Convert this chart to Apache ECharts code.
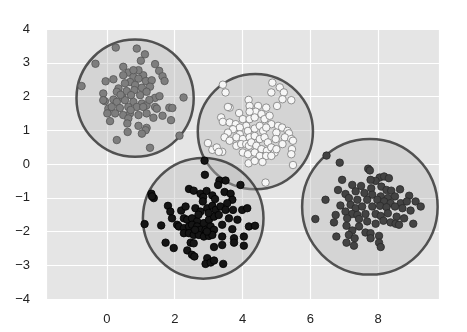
<!DOCTYPE html>
<html><head><meta charset="utf-8">
<script src="https://cdn.jsdelivr.net/npm/echarts@6/dist/echarts.min.js"></script>
<style>html,body{margin:0;padding:0;background:#fff}#c{width:467px;height:332px}</style>
</head><body><div id="c"></div>
<script>
// x/y tick labels
const xTicks = [0, 2, 4, 6, 8];
const yTicks = [-4, -3, -2, -1, 0, 1, 2, 3, 4];

// cluster circles: centers and radii
const circleCenters = [[0.83, 1.95], [4.38, 0.96], [2.84, -1.61], [7.76, -1.27]];
const circleRadii = [1.73, 1.70, 1.78, 2.0];

// cluster A (medium grey, top-left)
const clusterA = [
[0.26,3.45],[0.88,3.42],[1.12,3.25],[1.00,3.06],[-0.34,2.97],[0.48,2.88],[1.42,2.96],[1.54,2.76],
[0.63,2.71],[1.07,2.63],[1.64,2.60],[1.70,2.46],[-0.04,2.45],[0.19,2.51],[0.78,2.58],[0.93,2.53],
[0.68,2.43],[0.53,2.39],[0.83,2.34],[1.15,2.46],[1.32,2.48],[1.27,2.29],[1.03,2.26],[0.81,2.19],
[0.58,2.16],[0.34,2.24],[0.29,2.14],[-0.75,2.31],[-0.11,2.09],[-0.06,1.86],[0.19,1.91],[0.46,1.96],
[0.71,2.04],[0.98,2.04],[1.17,2.14],[1.42,1.96],[1.55,2.01],[2.26,1.97],[-0.11,1.89],[0.29,1.84],
[0.53,1.89],[0.78,1.84],[1.03,1.79],[1.17,1.74],[1.42,1.69],[0.04,1.64],[0.14,1.69],[0.38,1.66],
[0.63,1.69],[0.88,1.69],[1.07,1.69],[1.47,1.64],[1.84,1.67],[1.93,1.66],[0.01,1.50],[0.24,1.50],
[0.48,1.45],[0.68,1.50],[0.93,1.45],[1.17,1.50],[1.64,1.43],[1.37,1.37],[0.09,1.27],[0.63,1.35],
[0.60,1.20],[0.93,1.13],[1.17,1.07],[1.14,1.00],[1.03,0.90],[0.61,0.95],[1.89,1.30],[0.29,0.71],
[1.27,0.48],[2.14,0.84],[0.48,2.63],[0.93,2.78],[0.78,2.78],[0.40,2.05],[1.25,1.90],[0.70,1.60]
];

// cluster B (white, centre)
const clusterB = [
[3.42,2.35],[3.50,2.12],[4.88,2.41],[5.10,2.27],[5.22,2.12],[4.85,2.12],[5.02,1.72],[5.18,1.92],
[5.44,1.89],[4.18,1.90],[3.62,1.67],[3.57,1.69],[4.21,1.72],[4.46,1.72],[4.70,1.67],[4.39,1.55],
[4.21,1.55],[3.90,1.51],[3.37,1.38],[3.42,1.25],[3.62,1.23],[3.80,1.18],[4.01,1.33],[4.21,1.33],
[4.36,1.38],[4.56,1.48],[4.65,1.33],[4.80,1.43],[4.85,1.18],[5.05,1.13],[5.17,1.08],[5.33,0.98],
[5.37,0.91],[4.11,1.13],[3.92,1.08],[3.72,1.03],[3.57,0.93],[3.92,0.88],[4.16,0.98],[4.36,1.05],
[4.51,1.13],[4.61,0.98],[4.70,1.08],[5.00,0.93],[5.25,0.79],[5.44,0.74],[5.49,0.69],[3.47,0.79],
[3.62,0.69],[3.82,0.79],[4.01,0.74],[4.21,0.79],[4.36,0.83],[4.51,0.74],[4.65,0.79],[4.75,0.64],
[4.98,0.74],[5.18,0.59],[5.46,0.44],[2.98,0.62],[3.11,0.42],[3.24,0.49],[3.40,0.36],[3.30,0.36],
[3.82,0.54],[3.96,0.59],[4.11,0.59],[4.19,0.54],[4.26,0.64],[4.41,0.54],[4.56,0.44],[4.72,0.39],
[4.85,0.49],[4.95,0.34],[5.00,0.44],[4.01,0.34],[4.16,0.29],[4.36,0.34],[4.51,0.24],[4.70,0.24],
[4.85,0.24],[5.44,0.29],[4.59,0.06],[4.18,0.02],[4.36,0.09],[5.49,-0.03],[4.68,-0.55]
];

// cluster C (black, bottom centre)
const clusterC = [
[2.88,0.10],[2.89,-0.32],[3.32,-0.49],[3.50,-0.49],[3.94,-0.62],[3.28,-0.62],[2.42,-0.74],[2.56,-0.79],
[2.76,-0.88],[2.94,-0.80],[3.11,-0.93],[2.84,-0.98],[3.19,-1.04],[2.83,-1.11],[3.47,-0.83],[3.65,-0.88],
[3.70,-1.06],[1.31,-0.88],[1.38,-1.01],[1.33,-0.96],[1.80,-1.24],[1.87,-1.41],[2.19,-1.38],[2.32,-1.26],
[2.61,-1.31],[2.76,-1.41],[2.96,-1.31],[3.11,-1.24],[3.21,-1.36],[3.35,-1.26],[3.55,-1.16],[3.50,-1.36],
[3.72,-1.36],[3.99,-1.36],[4.14,-1.31],[1.92,-1.61],[2.07,-1.80],[2.27,-1.61],[2.37,-1.65],[2.51,-1.61],
[2.66,-1.70],[2.86,-1.75],[3.01,-1.65],[3.16,-1.56],[3.30,-1.51],[3.60,-1.61],[3.85,-1.65],[1.11,-1.78],
[1.60,-1.82],[2.12,-1.85],[2.27,-1.90],[2.42,-1.85],[2.51,-1.80],[2.66,-1.85],[2.76,-1.95],[2.91,-1.95],
[3.06,-1.85],[3.16,-1.95],[3.40,-1.80],[3.70,-1.93],[4.19,-1.85],[4.37,-1.83],[2.27,-2.05],[2.42,-2.05],
[2.56,-2.10],[2.71,-2.10],[2.86,-2.15],[3.01,-2.13],[3.11,-2.10],[3.40,-2.15],[3.75,-2.20],[4.04,-2.15],
[1.73,-2.33],[1.97,-2.49],[2.47,-2.33],[2.56,-2.35],[3.40,-2.40],[3.16,-2.46],[3.75,-2.33],[4.04,-2.42],
[2.37,-2.56],[2.51,-2.69],[2.58,-2.74],[2.96,-2.79],[2.91,-2.96],[3.06,-2.92],[3.16,-2.86],[3.43,-2.96],
[2.70,-1.50],[3.00,-1.45],[2.95,-2.00],[2.60,-1.95]
];

// cluster D (dark grey, right)
const clusterD = [
[6.48,0.25],[6.87,0.04],[7.71,-0.14],[7.76,-0.19],[8.05,-0.40],[8.18,-0.37],[8.32,-0.42],[7.93,-0.50],
[7.78,-0.47],[6.94,-0.47],[7.24,-0.62],[7.50,-0.65],[7.80,-0.72],[8.10,-0.67],[8.25,-0.77],[8.39,-0.79],
[8.65,-0.75],[6.82,-0.77],[7.04,-0.89],[7.34,-0.81],[7.60,-0.86],[7.83,-0.91],[8.08,-0.96],[8.29,-1.01],
[8.50,-0.96],[8.92,-0.94],[6.45,-1.06],[7.14,-1.01],[7.39,-1.06],[7.68,-1.06],[7.98,-1.06],[8.18,-1.11],
[8.37,-1.16],[8.67,-1.16],[8.85,-1.11],[9.11,-1.11],[9.26,-1.26],[6.89,-1.23],[7.19,-1.21],[7.34,-1.31],
[7.53,-1.26],[7.83,-1.26],[8.06,-1.24],[8.25,-1.28],[8.50,-1.26],[8.72,-1.31],[8.96,-1.38],[6.75,-1.51],
[7.04,-1.41],[7.24,-1.48],[7.39,-1.51],[7.63,-1.48],[7.93,-1.48],[8.08,-1.54],[8.29,-1.46],[8.55,-1.56],
[8.77,-1.61],[6.15,-1.63],[6.70,-1.73],[7.09,-1.61],[7.44,-1.63],[7.68,-1.70],[7.93,-1.77],[8.16,-1.68],
[8.37,-1.73],[8.52,-1.77],[8.62,-1.80],[9.04,-1.77],[7.07,-1.83],[7.24,-1.97],[7.44,-1.85],[7.63,-2.03],
[7.78,-2.05],[8.03,-2.13],[7.14,-2.10],[6.77,-2.15],[7.31,-2.20],[7.78,-2.20],[7.07,-2.33],[7.29,-2.42],
[8.03,-2.33],[8.08,-2.46]
];

const chart = echarts.init(document.getElementById('c'), null, {renderer: 'canvas'});
const fmt = v => String(v).replace('-', '\u2212');
const circleData = circleCenters.map((c, i) => [c[0], c[1], circleRadii[i]]);

function scatter(data, fill, edge) {
  return {
    type: 'scatter', data: data, symbolSize: 7.5, z: 5,
    itemStyle: {color: fill, borderColor: edge, borderWidth: 0.8, opacity: 1},
    emphasis: {disabled: true}, silent: true
  };
}

chart.setOption({
  animation: false,
  grid: {left: 46, right: 28, top: 29, bottom: 33, show: true, backgroundColor: '#e5e5e5', borderWidth: 0},
  xAxis: {
    type: 'value', min: -1.8, max: 9.8, splitNumber: 5,
    axisLine: {show: false}, axisTick: {show: false},
    splitLine: {show: true, lineStyle: {color: '#ffffff', width: 1.2}},
    axisLabel: {
      margin: 14, color: '#222', fontFamily: 'Liberation Sans', fontSize: 13,
      showMinLabel: false, showMaxLabel: false,
      formatter: v => xTicks.indexOf(Math.round(v * 1000) / 1000) >= 0 ? fmt(v) : ''
    }
  },
  yAxis: {
    type: 'value', min: -4, max: 4, interval: 1,
    axisLine: {show: false}, axisTick: {show: false},
    splitLine: {show: true, lineStyle: {color: '#ffffff', width: 1.2}},
    axisLabel: {
      margin: 16, color: '#222', fontFamily: 'Liberation Sans', fontSize: 13,
      formatter: v => yTicks.indexOf(v) >= 0 ? fmt(v) : ''
    }
  },
  series: [
    {
      type: 'custom', data: circleData, z: 2, silent: true,
      renderItem: function (params, api) {
        const c = api.coord([api.value(0), api.value(1)]);
        const r = api.size([api.value(2), 0])[0];
        return {
          type: 'circle', shape: {cx: c[0], cy: c[1], r: r},
          style: {fill: 'rgba(185,185,185,0.38)', stroke: 'rgba(45,45,45,0.8)', lineWidth: 2.5}
        };
      }
    },
    scatter(clusterA, '#7e7e7e', '#555555'),
    scatter(clusterB, '#f6f6f6', '#7a7a7a'),
    scatter(clusterC, '#151515', '#000000'),
    scatter(clusterD, '#434343', '#2a2a2a')
  ]
});
</script></body></html>
